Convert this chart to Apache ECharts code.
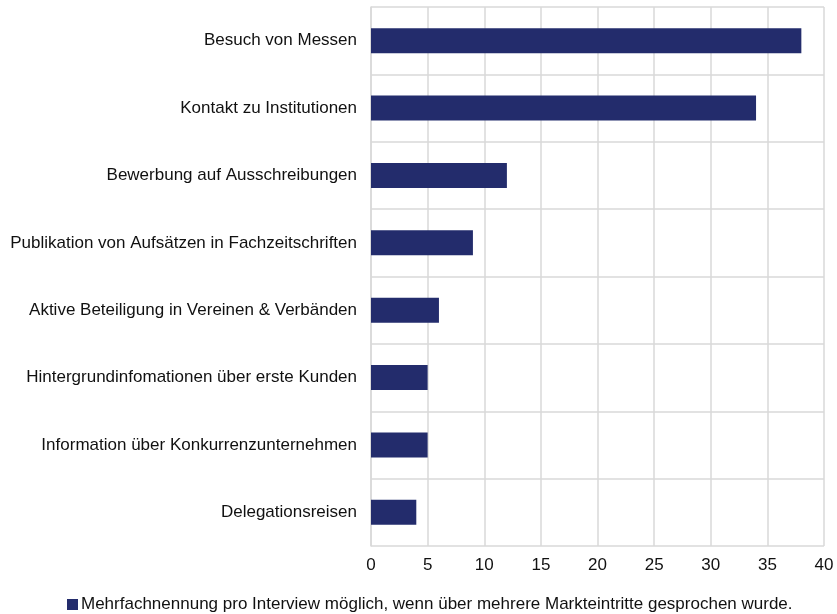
<!DOCTYPE html>
<html><head><meta charset="utf-8">
<script src="https://cdn.jsdelivr.net/npm/echarts@6/dist/echarts.min.js"></script>
<style>html,body{margin:0;padding:0;background:#fff}#c{width:837px;height:614px}</style>
</head><body><div id="c"></div>
<script>
const categories = ["Besuch von Messen","Kontakt zu Institutionen","Bewerbung auf Ausschreibungen","Publikation von Aufsätzen in Fachzeitschriften","Aktive Beteiligung in Vereinen & Verbänden","Hintergrundinfomationen über erste Kunden","Information über Konkurrenzunternehmen","Delegationsreisen"];
const values = [38,34,12,9,6,5,5,4];
const seriesName = "Mehrfachnennung pro Interview möglich, wenn über mehrere Markteintritte gesprochen wurde.";
const chart = echarts.init(document.getElementById('c'));
const font = "Liberation Sans, Arial, sans-serif";
chart.setOption({
  animation:false,
  grid:{left:371,right:13,top:7,bottom:68,containLabel:false},
  legend:{left:62,top:591,itemWidth:11,itemHeight:11,itemGap:4,icon:'rect',
    textStyle:{fontFamily:font,fontSize:17,color:'#111',padding:[0,0,0,-2]},data:[seriesName]},
  xAxis:{type:'value',min:0,max:40,interval:5,
    axisLine:{show:false},axisTick:{show:false},
    axisLabel:{fontFamily:font,fontSize:17,color:'#111',margin:11},
    splitLine:{show:true,lineStyle:{color:'#d9d9d9',width:1.5}}},
  yAxis:{type:'category',inverse:true,data:categories,
    axisLine:{show:true,lineStyle:{color:'#d9d9d9',width:1.5}},axisTick:{show:false},
    axisLabel:{fontFamily:font,fontSize:17,color:'#111',margin:14},
    splitLine:{show:true,lineStyle:{color:'#d9d9d9',width:1.5}}},
  series:[{name:seriesName,type:'bar',data:values,barWidth:25,itemStyle:{color:'#232c6c'}}]
});
</script></body></html>
